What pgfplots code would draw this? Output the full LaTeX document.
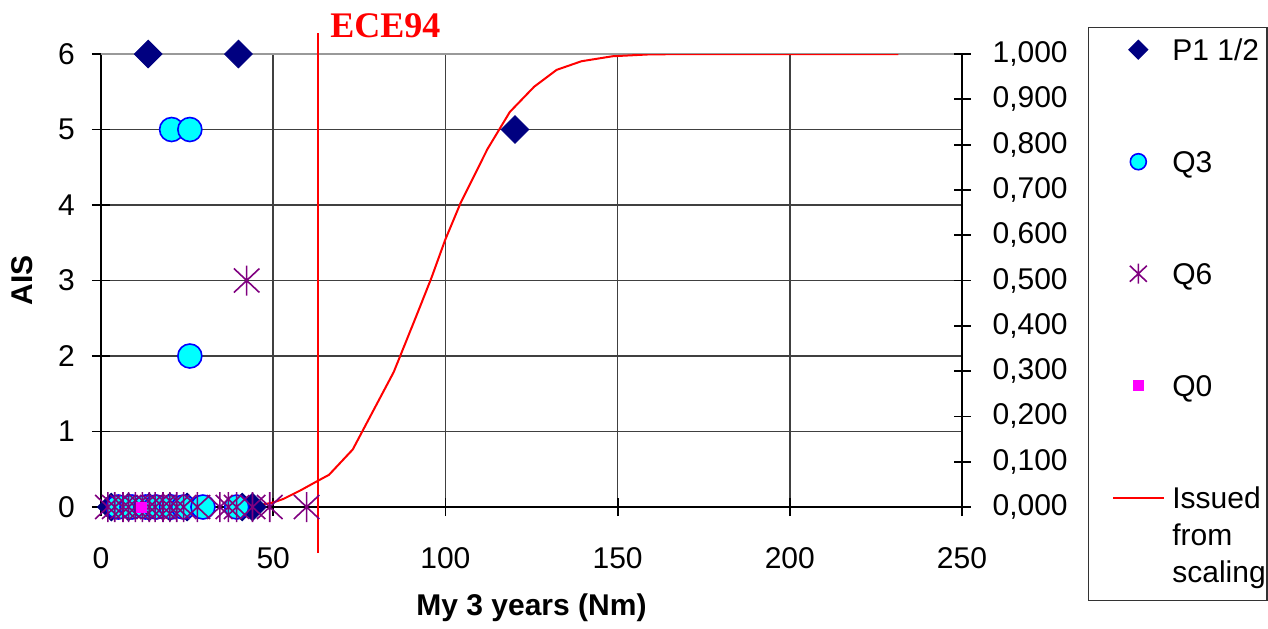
\documentclass[border=0pt]{standalone}
\usepackage{pgfplots}
\pgfplotsset{compat=1.18}
\usepackage{fontspec}
\setmainfont{Liberation Sans}
\newfontfamily\timesfont{Liberation Serif}
\definecolor{navy}{HTML}{000080}
\definecolor{purp}{HTML}{800080}
\definecolor{gridc}{HTML}{404040}
\definecolor{cyanx}{HTML}{00FFFF}
\definecolor{bluex}{HTML}{0000FF}
\definecolor{magx}{HTML}{FF00FF}
\definecolor{redx}{HTML}{FF0000}
\pgfdeclareplotmark{xstar}{%
 \pgfpathmoveto{\pgfqpoint{0pt}{\pgfplotmarksize}}\pgfpathlineto{\pgfqpoint{0pt}{-\pgfplotmarksize}}%
 \pgfpathmoveto{\pgfqpoint{-0.85\pgfplotmarksize}{0.8\pgfplotmarksize}}\pgfpathlineto{\pgfqpoint{0.85\pgfplotmarksize}{-0.8\pgfplotmarksize}}%
 \pgfpathmoveto{\pgfqpoint{-0.85\pgfplotmarksize}{-0.8\pgfplotmarksize}}\pgfpathlineto{\pgfqpoint{0.85\pgfplotmarksize}{0.8\pgfplotmarksize}}%
 \pgfusepathqstroke}
\newcommand\fs{\fontsize{15}{18.5}\selectfont}
\pgfplotsset{base/.style={scale only axis, width=430.5pt, height=226.5pt, xmin=0, xmax=250,
  /pgf/number format/assume math mode=true, tick label style={font=\fs}, label style={font=\fs\bfseries}},
  legmark/.style={legend image code/.code={\path (0pt,0pt) (33.5pt,0pt); \draw[##1] plot coordinates {(20.5pt,5.4pt)};}},
  legline/.style={legend image code/.code={\path (0pt,0pt) (33.5pt,0pt); \draw[##1] (8pt,5.4pt) -- (33.5pt,5.4pt);}}}
\begin{document}
\begin{tikzpicture}
% main (left) axis: grid, ticks, labels
\begin{axis}[base, name=A, ymin=0, ymax=6,
  axis x line*=bottom, axis y line*=left,
  xtick={0,50,100,150,200,250}, ytick={0,1,2,3,4,5,6},
  grid=major, major grid style={gridc, line width=0.8pt},
  axis line style={black, line width=0.9pt}, tick style={black, line width=0.9pt},
  tick align=center, major tick length=9pt, clip=false,
  xticklabel style={yshift=-12pt}, yticklabel style={xshift=-5pt},
  xlabel={My 3 years (Nm)}, ylabel={AIS},
  xlabel style={at={(axis description cs:0.5,-0.2384)}, anchor=base},
  ylabel style={at={(axis description cs:-0.079,0.5)}, anchor=base},
]
\draw[black!40, line width=0.8pt] (axis cs:0,6) -- (axis cs:250,6);
\draw[redx, line width=1pt] (axis cs:63,-0.61) -- (axis cs:63,6.28);
\node[anchor=base west, inner sep=0pt, text=redx, font=\timesfont\bfseries\fontsize{18}{20}\selectfont] at (axis cs:66.5,6.225) {ECE94};
\end{axis}
% right axis with the scaling curve
\begin{axis}[base, ymin=0, ymax=1, axis y line*=right, axis x line=none,
  ytick={0,0.1,0.2,0.3,0.4,0.5,0.6,0.7,0.8,0.9,1.0},
  yticklabel style={xshift=7.5pt, /pgf/number format/fixed, /pgf/number format/fixed zerofill,
    /pgf/number format/precision=3, /pgf/number format/use comma},
  axis line style={black, line width=0.9pt}, tick style={black, line width=0.9pt},
  tick align=center, major tick length=8.5pt]
\addplot[redx, line width=1pt, mark=none] coordinates {
 (37,0) (46,0.004) (50,0.010) (53,0.018) (58,0.037) (63,0.058) (66.2,0.071)
 (73.1,0.127) (77.2,0.186) (85,0.298) (92.1,0.432) (96,0.507) (99.9,0.589)
 (104.4,0.671) (112.2,0.790) (118.7,0.872) (125.8,0.928) (132.3,0.965)
 (139.5,0.984) (148.5,0.995) (158.9,0.999) (170,1) (231.5,1)};
\end{axis}
% scatter data and legend
\begin{axis}[base, ymin=0, ymax=6, hide axis, clip=false,
  legend style={at={(rel axis cs:1.146,1.0596)}, anchor=north west,
    draw=black!80, line width=0.6pt, fill=white, font=\fs,
    inner xsep=4pt, inner ysep=3.5pt, row sep=37.5pt, column sep=3.5pt,
    cells={anchor=base west}, nodes={inner sep=0pt, text depth=}},
]
\addlegendimage{only marks, mark=square*, mark options={rotate=45, fill=navy, draw=navy}, mark size=3.3pt, legmark}
\addlegendentry{\strut P1 1/2}
\addlegendimage{only marks, mark=*, mark options={fill=cyanx, draw=bluex, line width=0.8pt}, mark size=4pt, legmark}
\addlegendentry{\strut Q3}
\addlegendimage{only marks, mark=xstar, mark options={draw=purp, line width=0.8pt}, mark size=5pt, legmark}
\addlegendentry{\strut Q6}
\addlegendimage{only marks, mark=square*, mark options={fill=magx, draw=magx}, mark size=2.5pt, legmark}
\addlegendentry{\strut Q0}
\addlegendimage{redx, line width=1pt, legline}
\addlegendentry{\parbox[t]{43pt}{\strut Issued\\from\\scaling\strut}}
% P1 1/2
\addplot[forget plot, only marks, mark=square*, mark size=4.9pt,
  mark options={rotate=45, fill=navy, draw=navy}] coordinates {
 (13.7,6) (39.9,6) (120.2,5)
 (3,0) (8,0) (14,0) (20,0) (25,0) (41,0) (44,0)};
% Q3
\addplot[forget plot, only marks, mark=*, mark size=6pt,
  mark options={fill=cyanx, draw=bluex, line width=0.8pt}] coordinates {
 (20.5,5) (25.8,5) (25.8,2)
 (5,0) (9,0) (13,0) (16,0) (20.5,0) (24,0) (29.6,0) (39.4,0)};
% Q6
\addplot[forget plot, only marks, mark=xstar, mark size=7.5pt,
  mark options={draw=purp, line width=0.8pt}] coordinates {
 (42.3,3)
 (2,0) (4,0) (6.4,0) (8,0) (10,0) (12,0) (14,0) (15.7,0) (18,0) (20,0) (22,0)
 (24,0) (28,0) (34.5,0) (37,0) (39.4,0) (44,0) (49,0) (59.7,0)};
% Q0
\addplot[forget plot, only marks, mark=square*, mark size=2.5pt,
  mark options={fill=magx, draw=magx}] coordinates {(11.8,0)};
\end{axis}
\path (A.south west) ++(-50.5pt,-60.5pt) coordinate (bbl);
\path (A.south west) ++(583.5pt,253.5pt) coordinate (btr);
\path (bbl) rectangle (btr);
\end{tikzpicture}
\end{document}
